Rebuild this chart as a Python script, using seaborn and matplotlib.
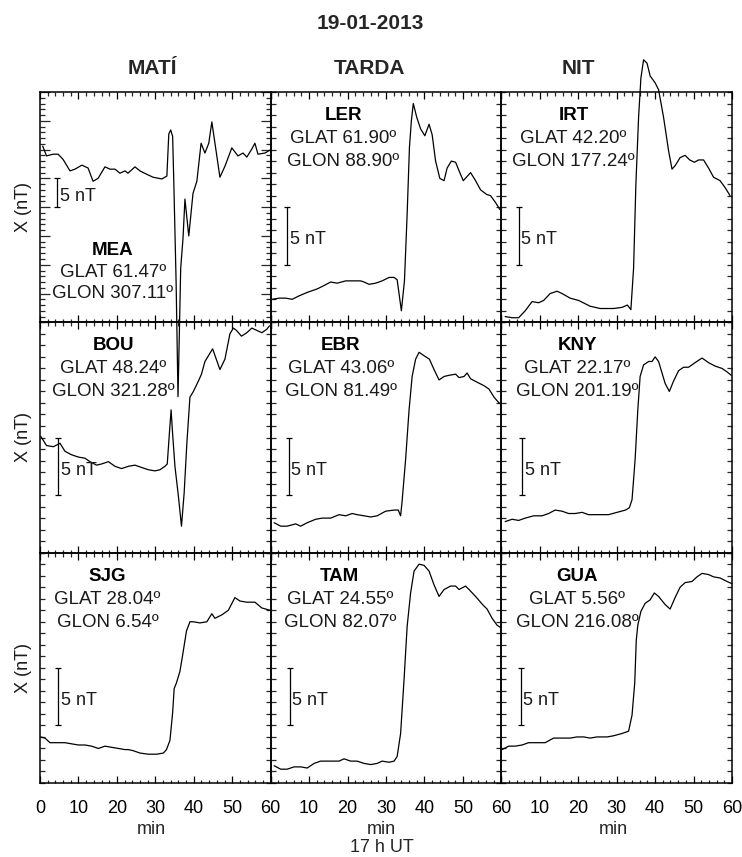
import numpy as np
import pandas as pd
import matplotlib
matplotlib.use("Agg")
import matplotlib.pyplot as plt
import matplotlib.transforms as mtransforms
from matplotlib.ticker import MultipleLocator
import seaborn as sns

sns.set_style("ticks")
plt.rcParams['font.family'] = ['Liberation Sans', 'DejaVu Sans']

# ---------------- data (minutes after 17 h UT, X variation in nT) ----------------
t_MEA = [0.7,1.7,3.4,4.7,6.0,7.8,9.1,10.9,12.5,13.8,15.1,16.9,18.2,19.5,20.8,22.1,22.9,24.7,26.0,27.8,
         29.4,31.7,33.0,33.5,34.0,34.5,34.8,35.4,35.9,36.6,37.2,37.7,38.7,39.8,40.8,41.9,42.9,43.9,44.7,46.8,
         48.1,49.9,51.5,52.8,53.8,55.1,55.9,56.7,58.5,59.8]
x_MEA = [30.6,28.9,29.2,29.2,28.3,26.3,26.6,27.3,26.8,24.5,25.0,27.0,26.6,26.6,25.9,26.3,25.9,27.0,26.3,25.7,
         25.2,24.9,25.4,32.7,33.4,32.3,24.5,7.1,-12.9,9.4,14.6,21.4,15.0,22.4,24.5,31.1,29.4,31.1,34.8,25.2,
         27.1,30.3,28.9,29.4,28.7,30.1,31.1,29.2,29.4,29.9]

t_LER = [0.4,2.2,3.9,5.6,7.4,9.5,12.1,13.9,15.6,17.3,19.5,22.1,23.4,24.3,25.6,27.3,29.0,30.8,32.1,32.9,
         34.0,34.8,35.5,36.1,36.6,37.1,38.0,39.0,40.1,41.2,42.0,42.9,44.0,45.1,45.9,47.0,48.1,49.2,50.1,52.0,
         53.3,54.6,56.2,57.2,58.5,59.6]
x_LER = [2.0,2.1,2.1,2.0,2.3,2.6,2.9,3.2,3.5,3.4,3.6,3.6,3.6,3.5,3.3,3.4,3.6,3.9,3.9,3.7,
         1.0,3.6,9.4,15.2,17.5,19.0,17.8,16.8,16.2,17.2,16.3,14.0,12.5,12.3,13.4,14.0,13.9,13.0,12.3,13.0,
         12.3,11.5,11.1,11.0,10.4,9.8]

t_IRT = [1.0,2.8,4.5,6.2,8.0,9.7,11.0,12.7,14.5,15.8,17.9,20.1,23.1,25.7,29.2,31.4,32.8,33.7,34.4,35.0,
         35.7,36.3,37.0,37.9,38.7,40.0,40.9,42.2,43.5,44.4,45.2,46.5,47.8,49.0,50.2,51.3,52.6,53.9,55.2,56.9,
         58.2,59.5]
x_IRT = [0.5,0.4,0.4,1.0,1.8,1.7,1.9,2.5,2.7,2.5,2.1,1.9,1.4,1.2,1.2,1.3,1.5,1.1,4.7,12.0,
         17.8,21.2,22.8,22.5,21.4,20.8,20.2,17.8,14.9,13.3,13.6,14.3,14.5,14.1,13.9,14.1,14.1,13.4,12.6,12.3,
         11.7,11.0]

t_BOU = [0.2,1.7,3.5,5.2,6.5,8.2,10.0,11.7,13.0,14.7,16.0,17.8,19.5,21.2,23.0,24.7,26.4,28.2,29.9,31.2,
         32.5,33.1,33.6,34.1,34.5,35.1,36.0,36.8,37.5,38.2,39.0,39.9,41.2,42.0,42.9,44.9,46.8,48.1,49.4,50.3,
         51.1,52.4,53.8,55.1,56.4,57.7,59.0,59.7]
x_BOU = [10.1,9.3,9.2,9.5,8.8,8.5,8.3,8.2,7.9,7.6,7.7,7.9,7.5,7.3,7.5,7.6,7.4,7.2,7.1,7.2,
         7.5,7.7,10.1,12.4,10.3,7.5,4.9,2.3,5.2,9.5,13.5,14.0,14.9,15.5,16.6,17.7,15.9,16.8,19.0,19.5,
         19.3,18.8,19.1,19.5,19.3,19.1,19.4,19.7]

t_EBR = [0.9,2.6,4.3,6.5,7.8,9.5,11.7,13.4,15.6,17.8,19.5,21.2,22.5,24.3,26.0,27.7,29.9,32.1,33.2,33.8,
         34.2,35.1,36.0,36.8,37.7,38.6,39.9,41.3,42.5,43.8,45.1,46.4,48.1,49.0,50.3,51.1,52.0,53.7,55.5,56.8,
         58.1,59.4,60.0]
x_EBR = [2.6,2.3,2.3,2.5,2.3,2.6,2.9,3.0,3.0,3.3,3.2,3.4,3.3,3.2,3.1,3.2,3.6,3.7,3.7,3.2,
         4.5,8.1,12.4,15.3,16.8,17.4,17.1,16.8,15.9,15.0,15.3,15.4,15.5,15.2,15.3,15.6,15.1,14.8,14.5,14.2,
         13.5,13.0,12.9]

t_KNY = [1.0,2.8,4.5,6.2,8.4,10.6,12.3,14.0,15.8,17.5,19.2,21.0,22.7,25.3,27.9,30.1,32.3,33.3,34.0,34.8,
         35.5,36.1,37.0,38.3,39.2,40.0,40.9,41.8,42.6,43.7,44.8,46.1,47.4,48.7,50.4,52.2,53.9,55.6,57.4,58.7,
         59.8]
x_KNY = [2.7,2.9,2.8,3.0,3.2,3.2,3.4,3.7,3.6,3.4,3.4,3.5,3.3,3.3,3.3,3.5,3.7,3.9,4.6,8.1,
         12.4,15.3,16.3,16.6,16.6,17.0,16.6,15.6,14.7,14.0,14.9,15.8,16.1,16.1,16.5,16.9,16.5,16.2,16.0,15.7,
         15.4]

t_SJG = [0.2,1.3,2.6,4.8,6.5,8.2,10.0,11.7,13.4,15.2,16.9,18.6,20.4,22.1,23.0,24.3,26.0,28.2,30.3,32.1,
         32.9,33.8,34.5,34.9,35.5,36.4,37.1,38.1,39.0,39.9,41.6,43.4,44.7,45.5,47.3,49.0,50.7,52.0,53.8,55.9,
         57.7,59.8]
x_SJG = [4.0,3.9,3.5,3.5,3.5,3.4,3.3,3.3,3.2,3.0,3.2,3.1,3.0,2.9,2.9,2.8,2.6,2.5,2.5,2.6,
         2.9,3.7,6.1,8.2,8.7,9.7,11.1,13.2,14.0,14.0,13.9,14.0,14.7,14.3,14.6,15.0,16.1,15.8,15.7,15.7,
         15.2,15.0]

t_TAM = [0.9,2.6,4.3,6.1,7.8,9.5,11.3,13.0,15.6,17.8,19.1,20.8,22.5,24.3,26.0,27.7,29.0,30.8,32.1,32.9,
         33.8,34.7,35.5,36.4,37.3,38.6,39.9,41.2,42.5,43.8,45.1,46.8,48.1,49.0,50.7,51.6,53.3,55.1,56.3,57.6,
         58.9,59.8]
x_TAM = [1.5,1.2,1.2,1.4,1.4,1.3,1.7,1.9,1.9,1.9,2.1,1.9,1.9,1.7,1.6,1.7,1.9,1.8,1.9,2.3,
         4.3,9.0,13.6,16.5,18.4,19.0,18.9,18.4,17.2,16.2,16.8,17.1,17.1,16.8,17.1,16.8,16.2,15.5,15.1,14.3,
         13.7,13.5]

t_GUA = [0.2,1.9,3.6,5.4,7.1,9.3,11.4,13.6,15.8,17.9,19.7,21.4,23.1,24.9,27.5,29.2,31.4,33.1,34.0,34.7,
         35.1,35.5,36.3,37.4,38.7,39.8,40.9,42.6,43.9,45.2,46.5,47.8,49.6,50.9,52.2,53.9,55.2,56.9,58.7,60.0]
x_GUA = [2.9,3.2,3.2,3.3,3.5,3.5,3.5,3.9,3.9,3.9,4.0,4.0,3.9,4.0,4.0,4.1,4.3,4.5,5.9,8.7,
         12.4,13.7,14.9,15.6,15.9,16.5,16.2,15.5,15.1,16.1,17.0,17.4,17.5,17.9,18.2,18.1,17.9,17.8,17.5,17.3]

stations = ["MEA", "LER", "IRT", "BOU", "EBR", "KNY", "SJG", "TAM", "GUA"]
glat = ["61.47", "61.90", "42.20", "48.24", "43.06", "22.17", "28.04", "24.55", "5.56"]
glon = ["307.11", "88.90", "177.24", "321.28", "81.49", "201.19", "6.54", "82.07", "216.08"]
columns = ["MATÍ", "TARDA", "NIT"]
xticks = [0, 10, 20, 30, 40, 50, 60]
title = "19-01-2013"

series_t = [t_MEA, t_LER, t_IRT, t_BOU, t_EBR, t_KNY, t_SJG, t_TAM, t_GUA]
series_x = [x_MEA, x_LER, x_IRT, x_BOU, x_EBR, x_KNY, x_SJG, x_TAM, x_GUA]

# ---------------- layout / style ----------------
W, H = 742, 857
fig = plt.figure(figsize=(W / 100, H / 100), dpi=100)
gs = fig.add_gridspec(3, 3, left=40 / W, right=732 / W, top=1 - 92 / H, bottom=1 - 783 / H,
                      wspace=0, hspace=0)

yspan = [40, 20, 20, 20, 20, 20, 20, 20, 20]          # nT shown per panel
label_x = [19.0, 18.9, 18.8, 19.0, 18.2, 19.7, 17.6, 18.0, 19.7]
bar_x = [4.5, 4.3, 4.5, 4.7, 4.7, 5.4, 4.7, 4.9, 5.1]
PX = 0.72  # points per pixel

for i, name in enumerate(stations):
    r, c = divmod(i, 3)
    ax = fig.add_subplot(gs[r, c])
    ax.set_facecolor('none')
    df = pd.DataFrame({"t": series_t[i], "x": series_x[i]})
    sns.lineplot(data=df, x="t", y="x", ax=ax, color="black", linewidth=0.9,
                 sort=False, estimator=None, clip_on=False, zorder=5)
    ax.set_xlim(0, 60)
    ax.set_ylim(0, yspan[i])
    ax.set_xlabel("")
    ax.set_ylabel("")
    for s in ax.spines.values():
        s.set_linewidth(1.1)
        s.set_color("black")

    ax.xaxis.set_major_locator(MultipleLocator(10))
    ax.xaxis.set_minor_locator(MultipleLocator(2))
    ax.tick_params(axis='x', which='major', direction='in', length=7 * PX, width=0.9,
                   top=True, bottom=True, labelsize=13, pad=12, colors='black')
    ax.tick_params(axis='x', which='minor', direction='in', length=3.5 * PX, width=0.9,
                   top=True, bottom=True)
    if yspan[i] > 20:
        ax.yaxis.set_major_locator(MultipleLocator(5))
        ax.yaxis.set_minor_locator(MultipleLocator(1))
        ax.tick_params(axis='y', which='major', direction='in', length=10 * PX, width=0.9,
                       left=True, right=True)
        ax.tick_params(axis='y', which='minor', direction='in', length=5 * PX, width=0.9,
                       left=True, right=True)
    else:
        ax.yaxis.set_major_locator(MultipleLocator(1))
        ax.tick_params(axis='y', which='major', direction='in', length=5 * PX, width=0.9,
                       left=True, right=True)
    ax.tick_params(axis='y', labelleft=False)

    if r == 2:
        ax.set_xticks(xticks)
        ax.set_xticklabels(["" if (c > 0 and v == 0) else str(v) for v in xticks])
    else:
        ax.tick_params(axis='x', labelbottom=False)

    # station labels
    if i == 0:
        ys = [1 - 163 / 230.3, 1 - 185 / 230.3, 1 - 206 / 230.3]
    else:
        ys = [1 - 28 / 230.3, 1 - 51 / 230.3, 1 - 74 / 230.3]
    tr = ax.get_xaxis_transform()
    ax.text(label_x[i], ys[0], name, transform=tr, ha='center', va='baseline',
            fontsize=13.5, fontweight='bold', color='black', zorder=6)
    ax.text(label_x[i], ys[1], f"GLAT {glat[i]}º", transform=tr, ha='center', va='baseline',
            fontsize=13.5, color='#1a1a1a', zorder=6)
    ax.text(label_x[i], ys[2], f"GLON {glon[i]}º", transform=tr, ha='center', va='baseline',
            fontsize=13.5, color='#1a1a1a', zorder=6)

    # 5 nT scale bar
    y0 = 20 if yspan[i] > 20 else 5
    ax.errorbar([bar_x[i]], [y0 + 2.5], yerr=[2.5], fmt='none', ecolor='black',
                elinewidth=0.9, capsize=2.2, capthick=0.9, zorder=6)
    toff = mtransforms.offset_copy(ax.transData, fig=fig, x=2.5, y=-8.5, units='dots')
    ax.text(bar_x[i], y0 + 2.5, "5 nT", transform=toff, ha='left', va='baseline',
            fontsize=13, color='#1a1a1a', zorder=6)

# ---------------- figure texts ----------------
def fx(px):
    return px / W

def fy(px):
    return 1 - px / H

fig.text(fx(370.5), fy(29.3), title, ha='center', va='baseline', fontsize=15, fontweight='bold')
for cx, txt in zip([152, 370, 578], columns):
    fig.text(fx(cx), fy(74), txt, ha='center', va='baseline', fontsize=15, fontweight='bold')
for cx in [151.7, 381.7, 613]:
    fig.text(fx(cx), fy(834), "min", ha='center', va='baseline', fontsize=13)
fig.text(fx(381.7), fy(851.5), "17 h UT", ha='center', va='baseline', fontsize=13)
for rc in [206.5, 437.5, 668]:
    fig.text(fx(23), fy(rc), "X (nT)", ha='center', va='center', rotation=90, fontsize=13,
             color='#1a1a1a')

fig.savefig("out.png", dpi=100)
